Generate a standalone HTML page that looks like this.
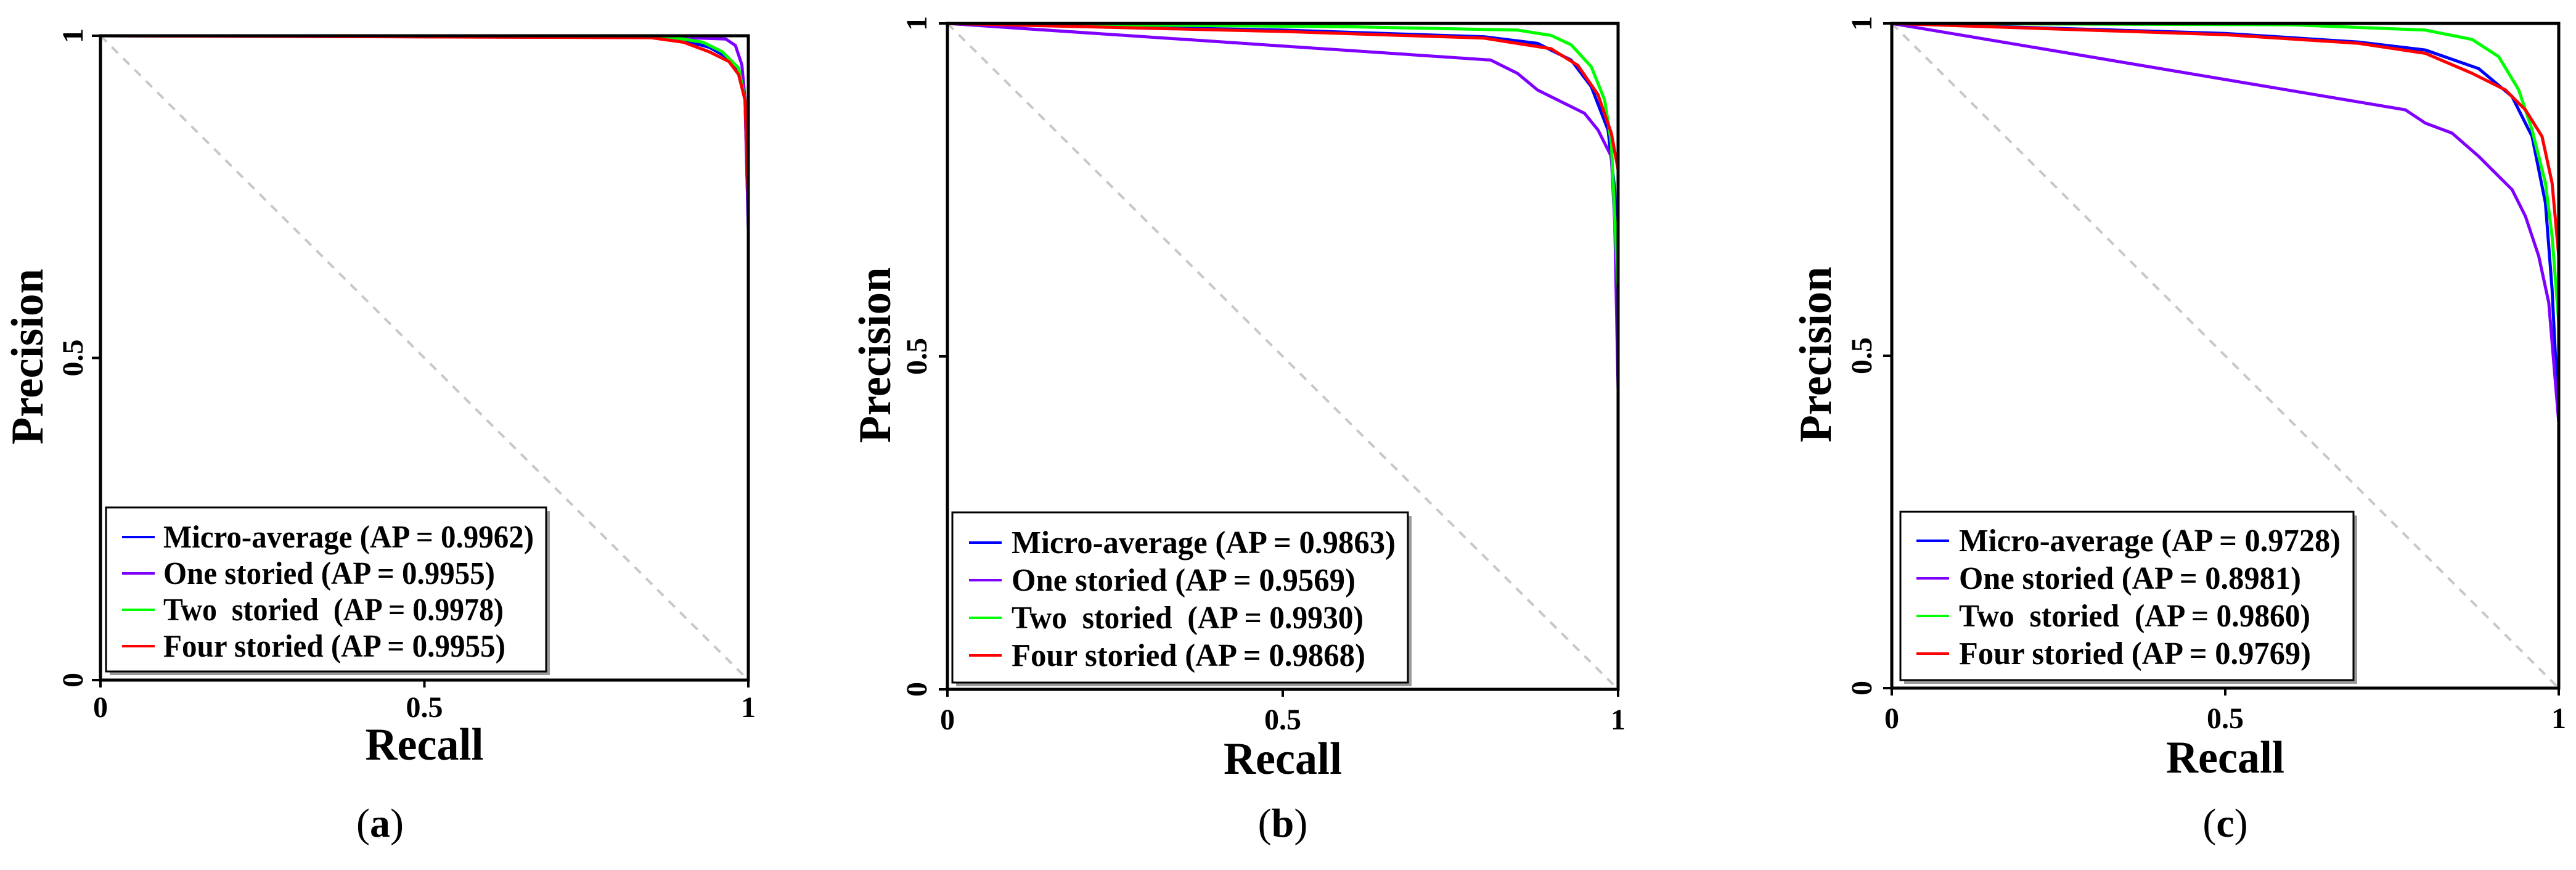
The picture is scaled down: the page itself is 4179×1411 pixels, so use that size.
<!DOCTYPE html>
<html><head><meta charset="utf-8"><style>
html,body{margin:0;padding:0;background:#fff;}
svg{display:block;}
text{font-family:"Liberation Serif",serif;font-weight:bold;fill:#000;white-space:pre;}
</style></head><body>
<svg id="fig" width="4179" height="1411" viewBox="0 0 4179 1411" xmlns="http://www.w3.org/2000/svg"></svg>
<script>
// ---- data ----
const seriesNames = ["Micro-average", "One storied", "Two  storied ", "Four storied"];
const seriesColors = ["#0000ff", "#8000ff", "#00ff00", "#ff0000"];
const tickValues = [0, 0.5, 1];
const tickLabels = ["0", "0.5", "1"];
const panelLetters = ["a", "b", "c"];
const apA = ["0.9962", "0.9955", "0.9978", "0.9955"];
const apB = ["0.9863", "0.9569", "0.9930", "0.9868"];
const apC = ["0.9728", "0.8981", "0.9860", "0.9769"];
// panel a: [recall, precision]
const aMicro = [[0,1],[0.85,0.998],[0.9,0.993],[0.94,0.982],[0.97,0.965],[0.985,0.945],[0.995,0.9],[1,0.7],[1,0.42]];
const aOne   = [[0,1],[0.9,0.997],[0.965,0.995],[0.98,0.985],[0.99,0.955],[0.995,0.9],[1,0.7],[1,0.5]];
const aTwo   = [[0,1],[0.88,0.998],[0.93,0.99],[0.96,0.975],[0.985,0.95],[0.995,0.9],[1,0.8],[1,0.6]];
const aFour  = [[0,1],[0.85,0.997],[0.9,0.99],[0.94,0.975],[0.97,0.96],[0.985,0.94],[0.995,0.9],[1,0.75],[1,0.55]];
// panel b
const bMicro = [[0,1],[0.5,0.99],[0.8,0.98],[0.88,0.97],[0.93,0.945],[0.96,0.905],[0.985,0.84],[0.995,0.75],[1,0.5],[1,0.3]];
const bOne   = [[0,1],[0.81,0.945],[0.85,0.925],[0.88,0.9],[0.92,0.88],[0.95,0.865],[0.97,0.84],[0.99,0.8],[0.995,0.7],[1,0.45],[1,0.2]];
const bTwo   = [[0,1],[0.6,0.995],[0.85,0.99],[0.9,0.982],[0.93,0.968],[0.96,0.935],[0.98,0.885],[0.99,0.82],[1,0.6],[1,0.45]];
const bFour  = [[0,1],[0.5,0.988],[0.8,0.978],[0.9,0.962],[0.94,0.937],[0.97,0.893],[0.99,0.835],[1,0.78],[1,0.6]];
// panel c
const cMicro = [[0,1],[0.5,0.985],[0.7,0.972],[0.8,0.96],[0.88,0.932],[0.93,0.89],[0.96,0.83],[0.98,0.73],[0.99,0.6],[1,0.4],[1,0.25]];
const cOne   = [[0,1],[0.77,0.87],[0.8,0.85],[0.84,0.835],[0.88,0.8],[0.9,0.78],[0.93,0.75],[0.95,0.71],[0.97,0.65],[0.985,0.58],[1,0.4],[1,0.25]];
const cTwo   = [[0,1],[0.6,0.998],[0.8,0.99],[0.87,0.976],[0.91,0.95],[0.94,0.9],[0.96,0.84],[0.98,0.76],[0.99,0.68],[1,0.55],[1,0.45]];
const cFour  = [[0,1],[0.5,0.983],[0.7,0.97],[0.8,0.955],[0.87,0.925],[0.92,0.9],[0.95,0.87],[0.975,0.83],[0.99,0.76],[1,0.65],[1,0.6]];

const panels = [
  {id:"a", L:163, R:1214, T:58, B:1103, ap:apA, data:[aMicro,aOne,aTwo,aFour], tl:[601,538,552,555],
   leg:{x:172,y:823,w:714,h:266,lx:198,tx:265,y0:871,dy:59}, ylab:43, ytick:118, xtickY:1163, recallY:1232, capY:1357},
  {id:"b", L:1537, R:2625, T:38, B:1118, ap:apB, data:[bMicro,bOne,bTwo,bFour], tl:[623,558,571,574],
   leg:{x:1545,y:831,w:739,h:276,lx:1572,tx:1641,y0:880,dy:61}, ylab:1418, ytick:1487, xtickY:1183, recallY:1255, capY:1357},
  {id:"c", L:3069, R:4151, T:38, B:1116, ap:apC, data:[cMicro,cOne,cTwo,cFour], tl:[619,555,570,571],
   leg:{x:3083,y:830,w:735,h:273,lx:3109,tx:3178,y0:877,dy:61}, ylab:2944, ytick:3020, xtickY:1181, recallY:1253, capY:1357}
];

const NS = "http://www.w3.org/2000/svg";
const svg = document.getElementById("fig");
function mk(tag, attrs, parent){
  const e = document.createElementNS(NS, tag);
  for (const k in attrs) e.setAttribute(k, attrs[k]);
  (parent||svg).appendChild(e);
  return e;
}

panels.forEach((p, pi) => {
  const g = mk("g", {});
  
  
  const sx = v => p.L + v*(p.R-p.L);
  const sy = v => p.B - v*(p.B-p.T);

  const diag = mk("line", {x1:sx(0),y1:sy(1),x2:sx(1),y2:sy(0),stroke:"#c8c8c8","stroke-width":4,"stroke-dasharray":"14,12"}, g);
  
  

  p.data.forEach((pts, si) => {
    const d = pts.map((pt,i)=>(i?"L":"M")+sx(pt[0]).toFixed(1)+","+sy(pt[1]).toFixed(1)).join(" ");
    const path = mk("path", {d:d,fill:"none",stroke:seriesColors[si],"stroke-width":5,"stroke-linejoin":"round"}, g);
    
    
  });

  const fr = mk("rect", {x:p.L,y:p.T,width:p.R-p.L,height:p.B-p.T,fill:"none",stroke:"#000","stroke-width":5}, g);
  
  

  tickValues.forEach((v, i) => {
    mk("line", {x1:sx(v),y1:p.B,x2:sx(v),y2:p.B+12,stroke:"#000","stroke-width":4}, g);
    mk("line", {x1:p.L-14,y1:sy(v),x2:p.L,y2:sy(v),stroke:"#000","stroke-width":4}, g);
    const xt = mk("text", {x:sx(v),y:p.xtickY,"font-size":48,"text-anchor":"middle"}, g);
    xt.textContent = tickLabels[i];
    
    
    const yt = mk("text", {x:0,y:0,"font-size":48,"text-anchor":"middle",transform:`translate(${p.ytick+16},${sy(v)}) rotate(-90)`}, g);
    yt.textContent = tickLabels[i];
    
    
  });

  const xl = mk("text", {x:(p.L+p.R)/2,y:p.recallY,"font-size":74,"text-anchor":"middle",textLength:192,lengthAdjust:"spacingAndGlyphs"}, g);
  xl.textContent = "Recall";
  
  
  const yl = mk("text", {x:0,y:0,"font-size":74,"text-anchor":"middle",textLength:285,lengthAdjust:"spacingAndGlyphs",transform:`translate(${p.ylab+26},${sy(0.5)-2}) rotate(-90)`}, g);
  yl.textContent = "Precision";
  
  

  const L = p.leg;
  const lg = mk("g", {}, g);
  
  
  mk("rect", {x:L.x+6,y:L.y+6,width:L.w,height:L.h,fill:"#9a9a9a"}, lg);
  mk("rect", {x:L.x,y:L.y,width:L.w,height:L.h,fill:"#fff",stroke:"#000","stroke-width":3}, lg);
  seriesNames.forEach((n, si) => {
    const yy = L.y0 + si*L.dy;
    const ln = mk("line", {x1:L.lx,y1:yy,x2:L.lx+53,y2:yy,stroke:seriesColors[si],"stroke-width":4}, lg);
    
    
    const t = mk("text", {x:L.tx,y:yy+17,"font-size":52,textLength:p.tl[si],lengthAdjust:"spacingAndGlyphs"}, lg);
    t.textContent = n + " (AP = " + p.ap[si] + ")";
    
    
  });

  const cap = mk("text", {x:(p.L+p.R)/2 - (pi===0?72:0),y:p.capY,"font-size":66,"text-anchor":"middle"}, g);
  const o1 = mk("tspan", {"font-weight":"normal"}, cap); o1.textContent = "(";
  const o2 = mk("tspan", {}, cap); o2.textContent = panelLetters[pi];
  const o3 = mk("tspan", {"font-weight":"normal"}, cap); o3.textContent = ")";
  
  
});
</script>
</body></html>
